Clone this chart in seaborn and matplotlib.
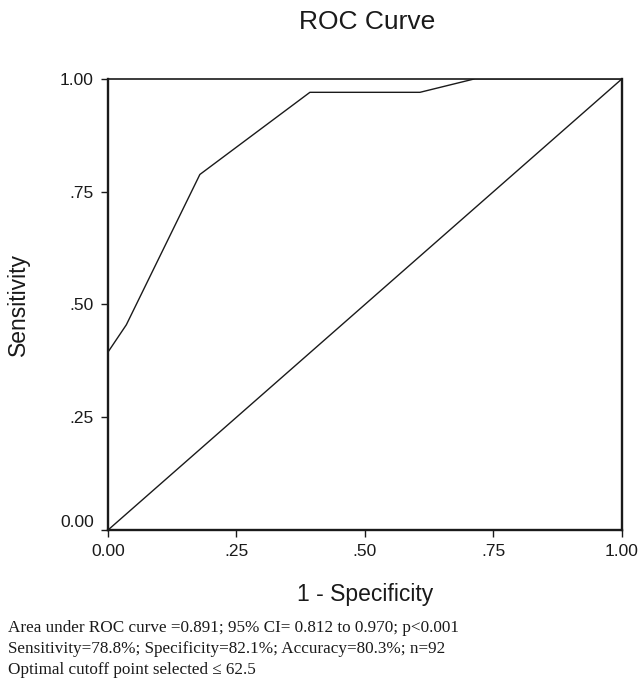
import matplotlib
matplotlib.use("Agg")
import matplotlib.pyplot as plt
import seaborn as sns
import pandas as pd

# ROC points
fpr = [0.0, 0.036, 0.179, 0.393, 0.607, 0.714, 1.0]
tpr = [0.394, 0.455, 0.788, 0.970, 0.970, 1.0, 1.0]
ref = [0.0, 1.0]
ticks = [0.0, 0.25, 0.5, 0.75, 1.0]
tick_labels = ["0.00", ".25", ".50", ".75", "1.00"]
notes = ["Area under ROC curve =0.891; 95% CI= 0.812 to 0.970; p<0.001",
         "Sensitivity=78.8%; Specificity=82.1%; Accuracy=80.3%; n=92",
         "Optimal cutoff point selected \u2264 62.5"]

sns.set_style("white")
plt.rcParams['font.family'] = ['Liberation Sans', 'DejaVu Sans']

fig = plt.figure(figsize=(6.38, 6.85), dpi=100)
ax = fig.add_axes([0.169, 0.226, 0.806, 0.659])

roc = pd.DataFrame({"fpr": fpr, "tpr": tpr})
sns.lineplot(data=roc, x="fpr", y="tpr", ax=ax, color="#1a1a1a", lw=1.0,
             estimator=None, sort=False)
sns.lineplot(x=ref, y=ref, ax=ax, color="#1a1a1a", lw=1.0)

ax.set_xlim(0, 1)
ax.set_ylim(0, 1)
ax.set_xticks(ticks)
ax.set_xticklabels(tick_labels)
ax.set_yticks(ticks)
ax.set_yticklabels(tick_labels)
ax.tick_params(axis="both", direction="out", length=5, width=1, labelsize=12.5,
               colors="#1a1a1a", bottom=True, left=True, pad=5)
ax.get_yticklabels()[0].set_va("bottom")  # 0.00 sits above the axis line
for side in ["left", "bottom", "right"]:
    ax.spines[side].set_linewidth(1.7)
    ax.spines[side].set_color("#1a1a1a")
ax.spines["top"].set_linewidth(1.2)
ax.spines["top"].set_color("#1a1a1a")

ax.set_xlabel("1 - Specificity", fontsize=16.5, labelpad=17, color="#1a1a1a")
ax.set_ylabel("Sensitivity", fontsize=16.5, labelpad=22, color="#1a1a1a")
fig.text(0.575, 0.968, "ROC Curve", fontsize=19, ha="center", va="center", color="#1a1a1a")

for i, t in enumerate(notes):
    fig.text(0.013, 0.0774 - i * 0.0305, t, fontsize=12.3, family=["Liberation Serif", "DejaVu Serif"],
             ha="left", va="baseline", color="#1a1a1a")

fig.savefig("out.png", dpi=100)
